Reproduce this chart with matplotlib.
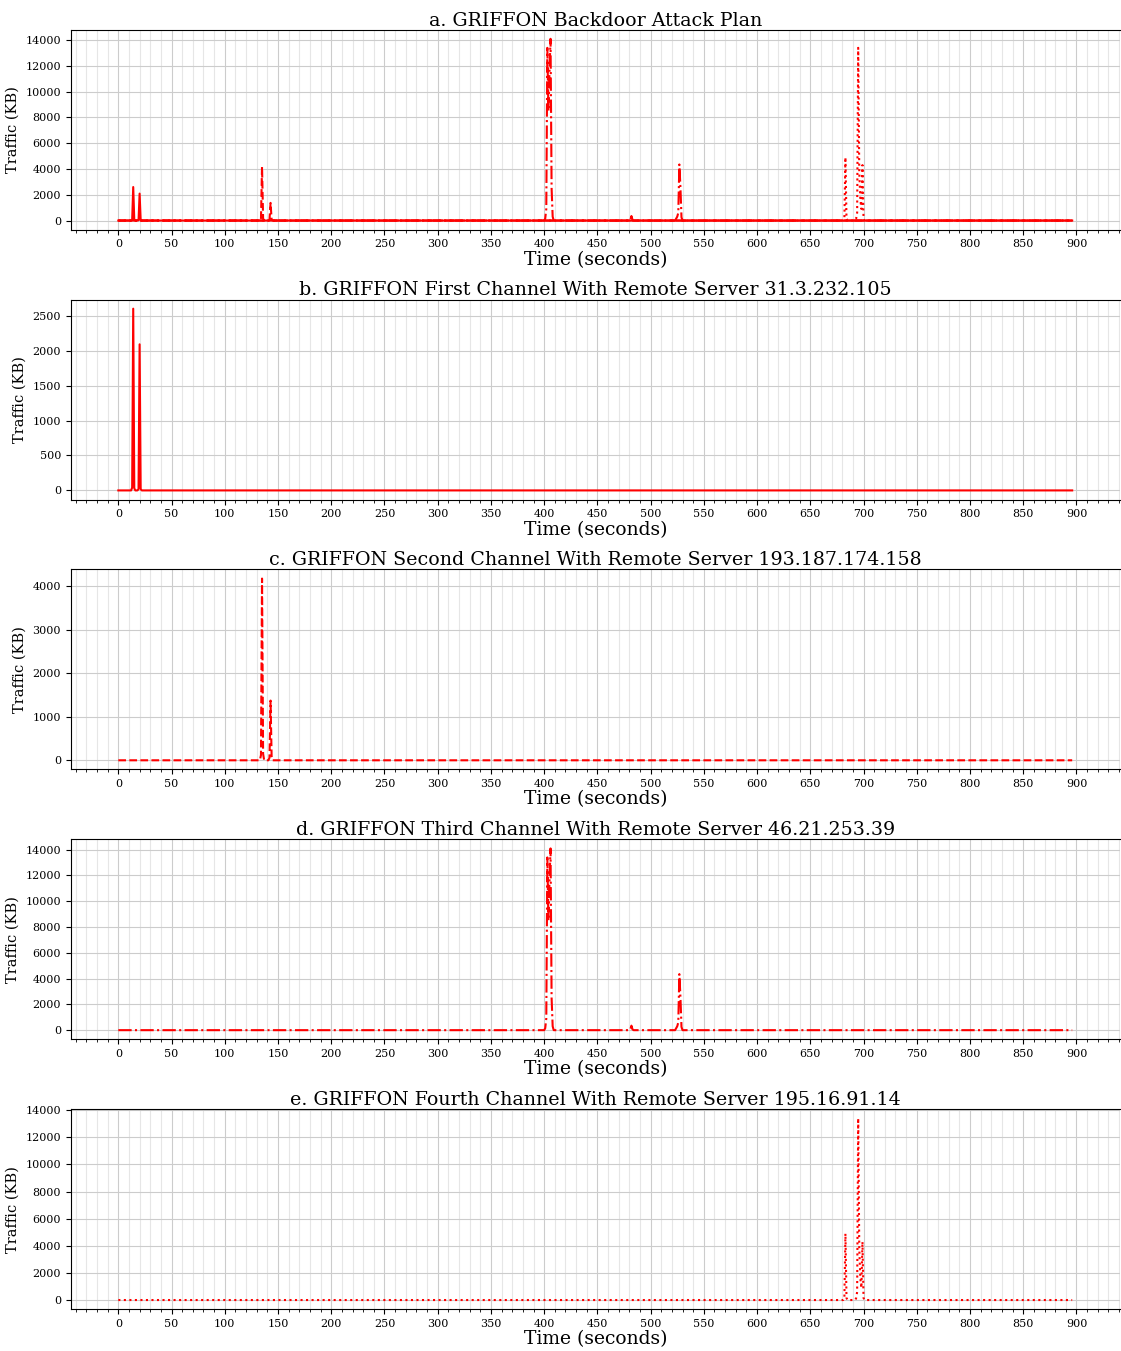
import numpy as np
import matplotlib
matplotlib.use('Agg')
import matplotlib.pyplot as plt
from matplotlib.ticker import MultipleLocator

plt.rcParams['font.family'] = 'DejaVu Serif'

# time axis, one sample per second
seconds = np.arange(0, 897)

# spike positions (s) and traffic (KB) for every channel, zero elsewhere
ch1_times = [13, 14, 15, 19, 20, 21]
ch1_values = [40, 2600, 30, 20, 2090, 20]
ch2_times = [134, 135, 136, 142, 143, 144]
ch2_values = [120, 4170, 150, 60, 1370, 90]
ch3_times = [401, 402, 403, 404, 405, 406, 407, 408, 481, 482, 483, 524, 525, 526, 527, 528, 529]
ch3_values = [150, 900, 13400, 8500, 11500, 14100, 2500, 300, 80, 350, 60, 150, 300, 600, 4350, 2600, 250]
ch4_times = [682, 683, 684, 693, 694, 695, 696, 697, 698, 699, 700]
ch4_values = [100, 4900, 150, 120, 600, 13400, 3800, 1600, 900, 4300, 150]

titles = [
    'a. GRIFFON Backdoor Attack Plan',
    'b. GRIFFON First Channel With Remote Server 31.3.232.105',
    'c. GRIFFON Second Channel With Remote Server 193.187.174.158',
    'd. GRIFFON Third Channel With Remote Server 46.21.253.39',
    'e. GRIFFON Fourth Channel With Remote Server 195.16.91.14',
]
y_steps = [2000, 500, 1000, 2000, 2000]


def series(times, values):
    y = np.zeros(len(seconds))
    y[times] = values
    return y


channels = [
    (series(ch1_times, ch1_values), '-'),
    (series(ch2_times, ch2_values), '--'),
    (series(ch3_times, ch3_values), '-.'),
    (series(ch4_times, ch4_values), ':'),
]

fig, axes = plt.subplots(5, 1, figsize=(11.21, 13.51))
fig.subplots_adjust(left=0.063, right=0.999, top=0.978, bottom=0.031, hspace=0.35)

for i, ax in enumerate(axes):
    if i == 0:
        for y, ls in channels:
            ax.plot(seconds, y, color='red', linestyle=ls, linewidth=1.5)
    else:
        y, ls = channels[i - 1]
        ax.plot(seconds, y, color='red', linestyle=ls, linewidth=1.5)
    ax.set_title(titles[i], fontsize=13.7, pad=3)
    ax.set_xlabel('Time (seconds)', fontsize=13.5, labelpad=1)
    ax.set_ylabel('Traffic (KB)', fontsize=10.5)
    ax.xaxis.set_major_locator(MultipleLocator(50))
    ax.xaxis.set_minor_locator(MultipleLocator(10))
    ax.yaxis.set_major_locator(MultipleLocator(y_steps[i]))
    ax.tick_params(axis='both', which='major', labelsize=8)
    ax.grid(which='major', color='#cccccc', linewidth=0.8)
    ax.grid(which='minor', axis='x', color='#e6e6e6', linewidth=0.8)
    ax.set_axisbelow(True)
    ax.spines['right'].set_visible(False)

fig.savefig('out.png', dpi=100)
